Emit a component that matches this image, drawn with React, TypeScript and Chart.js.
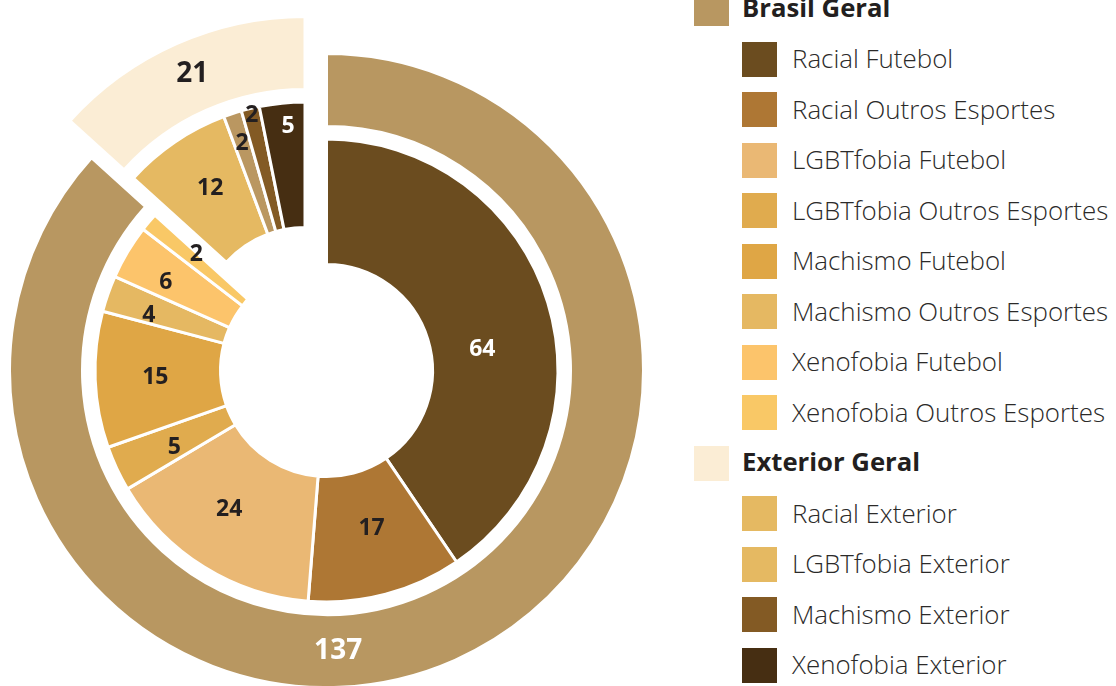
import React, { useEffect, useRef } from "react";
import { Chart, registerables } from "chart.js";

Chart.register(...registerables);

// ---------- data ----------
const groupLabels = ["Brasil Geral", "Exterior Geral"];
const groupValues = [137, 21];
const groupColors = ["#B89761", "#FBEDD5"];

const detailLabels = [
  "Racial Futebol",
  "Racial Outros Esportes",
  "LGBTfobia Futebol",
  "LGBTfobia Outros Esportes",
  "Machismo Futebol",
  "Machismo Outros Esportes",
  "Xenofobia Futebol",
  "Xenofobia Outros Esportes",
  "Racial Exterior",
  "LGBTfobia Exterior",
  "Machismo Exterior",
  "Xenofobia Exterior",
];
const detailValues = [64, 17, 24, 5, 15, 4, 6, 2, 12, 2, 2, 5];
const detailGroup = [0, 0, 0, 0, 0, 0, 0, 0, 1, 1, 1, 1];
const detailColors = [
  "#6B4C1F", "#AE7734", "#EAB874", "#E0AB4E", "#DFA645", "#E5B862",
  "#FCC46B", "#F9C866", "#E5B962", "#BA9761", "#835A24", "#462E12",
];
const detailLegendColors = [
  "#6B4C1F", "#AE7734", "#EAB874", "#E0AB4E", "#DFA645", "#E5B862",
  "#FCC46B", "#F9C866", "#E5B962", "#E5B962", "#835A24", "#462E12",
];

// ---------- style ----------
const EXPLODED_GROUP = 1;
const EXPLODE = { dx: -21.5, dy: -37 };
const DARK = "#231F20";
const groupLabelColors = ["#FFFFFF", DARK];
const detailLabelColors = [
  "#FFFFFF", DARK, DARK, DARK, DARK, DARK, DARK, DARK, DARK, DARK, DARK, "#FFFFFF",
];
// label placement inside each arc: t = fraction along the angle, r = fraction across the ring
const groupLabelPos = [
  { t: 0.569, r: 0.49 },
  { t: 0.51, r: 0.54 },
];
const detailLabelPos = [
  { t: 0.561, r: 0.41 },
  { t: 0.47, r: 0.46 },
  { t: 0.56, r: 0.5 },
  { t: 0.37, r: 0.51 },
  { t: 0.51, r: 0.52 },
  { t: 0.29, r: 0.64 },
  { t: 0.37, r: 0.62 },
  { t: 0.95, r: 0.55 },
  { t: 0.54, r: 0.54 },
  { t: 0.5, r: 0.76 },
  { t: 0.5, r: 0.95 },
  { t: 0.59, r: 0.82 },
];

const CANVAS_W = 653;
const CANVAS_H = 686;
const OUTER_R = 317;
const INNER_R = 106;
const W_OUTER = 73;
const W_GAP = 12.5;
const W_INNER = 125.5;

const explodePlugin = {
  id: "explodeGroup",
  afterDatasetsUpdate(chart: any) {
    const shift = (dsIndex: number, groupOf: (i: number) => number) => {
      const meta = chart.getDatasetMeta(dsIndex);
      meta.data.forEach((el: any, i: number) => {
        if (groupOf(i) === EXPLODED_GROUP) {
          el.x += EXPLODE.dx;
          el.y += EXPLODE.dy;
        }
      });
    };
    shift(0, (i) => i);
    shift(2, (i) => detailGroup[i]);
  },
};

const labelPlugin = {
  id: "arcLabels",
  afterDatasetsDraw(chart: any) {
    const ctx = chart.ctx;
    const draw = (
      dsIndex: number,
      pos: { t: number; r: number }[],
      colors: string[],
      font: string
    ) => {
      const meta = chart.getDatasetMeta(dsIndex);
      const values = chart.data.datasets[dsIndex].data as number[];
      meta.data.forEach((el: any, i: number) => {
        const { x, y, startAngle, endAngle, innerRadius, outerRadius } = el;
        const p = pos[i] || { t: 0.5, r: 0.5 };
        const a = startAngle + p.t * (endAngle - startAngle);
        const rr = innerRadius + p.r * (outerRadius - innerRadius);
        ctx.save();
        ctx.font = font;
        ctx.fillStyle = colors[i];
        ctx.textAlign = "center";
        ctx.textBaseline = "middle";
        ctx.fillText(String(values[i]), x + Math.cos(a) * rr, y + Math.sin(a) * rr + 1);
        ctx.restore();
      });
    };
    draw(0, groupLabelPos, groupLabelColors, '700 28px "Noto Sans"');
    draw(2, detailLabelPos, detailLabelColors, '700 23px "Noto Sans"');
  },
};

function ChartCanvas() {
  const ref = useRef<HTMLCanvasElement | null>(null);
  useEffect(() => {
    if (!ref.current) return;
    const chart = new Chart(ref.current, {
      type: "doughnut",
      data: {
        labels: detailLabels,
        datasets: [
          {
            data: groupValues,
            backgroundColor: groupColors,
            borderColor: "#FFFFFF",
            borderWidth: 3,
            weight: W_OUTER,
            clip: false,
          } as any,
          {
            data: [1],
            backgroundColor: "rgba(0,0,0,0)",
            borderWidth: 0,
            weight: W_GAP,
            clip: false,
          } as any,
          {
            data: detailValues,
            backgroundColor: detailColors,
            borderColor: "#FFFFFF",
            borderWidth: 3,
            weight: W_INNER,
            clip: false,
          } as any,
        ],
      },
      options: {
        responsive: false,
        animation: false,
        events: [],
        radius: OUTER_R,
        cutout: (INNER_R / OUTER_R) * 100 + "%",
        layout: { padding: { top: 2 * 370.5 - CANVAS_H, left: 0, right: 0, bottom: 0 } },
        plugins: {
          legend: { display: false },
          tooltip: { enabled: false },
        },
      } as any,
      plugins: [explodePlugin, labelPlugin],
    });
    return () => chart.destroy();
  }, []);
  return (
    <canvas
      ref={ref}
      width={CANVAS_W}
      height={CANVAS_H}
      style={{ position: "absolute", left: 0, top: 0, width: CANVAS_W, height: CANVAS_H }}
    />
  );
}

const ROW0 = 8.5;
const ROW_STEP = 50.5;
const SW = 35;

function Legend() {
  const rows: { label: string; color: string; header: boolean }[] = [];
  groupLabels.forEach((g, gi) => {
    rows.push({ label: g, color: groupColors[gi], header: true });
    detailLabels.forEach((d, di) => {
      if (detailGroup[di] === gi) rows.push({ label: d, color: detailLegendColors[di], header: false });
    });
  });
  return (
    <>
      {rows.map((row, i) => {
        const cy = ROW0 + i * ROW_STEP;
        const swX = row.header ? 694 : 742;
        const txX = row.header ? 742 : 792;
        return (
          <React.Fragment key={i}>
            <div
              style={{
                position: "absolute",
                left: swX,
                top: cy - SW / 2,
                width: SW,
                height: SW,
                background: row.color,
              }}
            />
            <div
              style={{
                position: "absolute",
                left: txX,
                top: cy - 21,
                height: 40,
                lineHeight: "40px",
                whiteSpace: "nowrap",
                fontFamily: '"Open Sans", sans-serif',
                fontWeight: row.header ? 700 : 300,
                fontSize: row.header ? 25.7 : 25.9,
                color: row.header ? "#231F20" : "#2B2A29",
              }}
            >
              {row.label}
            </div>
          </React.Fragment>
        );
      })}
    </>
  );
}

export default function App() {
  return (
    <div style={{ position: "absolute", left: 0, top: 0, width: 1116, height: 686, overflow: "hidden", background: "#FFFFFF" }}>
      <ChartCanvas />
      <Legend />
    </div>
  );
}
